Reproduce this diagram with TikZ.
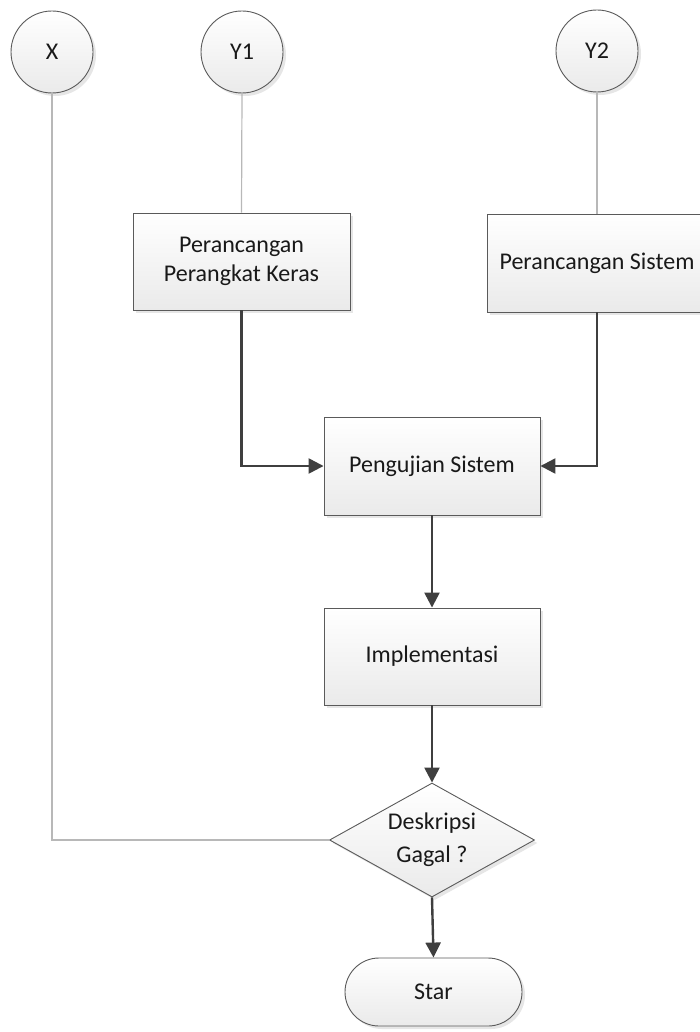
\documentclass[tikz,border=0pt]{standalone}
\usepackage{fontspec}
\setmainfont{Carlito}
\usetikzlibrary{shapes.geometric,arrows.meta,shadows}
\definecolor{edgegray}{HTML}{5A5A5A}
\definecolor{arrowgray}{HTML}{3F3F3F}
\definecolor{linegray}{HTML}{B8B8B8}
\definecolor{fillbot}{HTML}{EAEAEA}
\begin{document}
\begin{tikzpicture}[x=1pt,y=-1pt,
  base/.style={draw=edgegray, line width=0.9pt, top color=white, bottom color=fillbot,
     drop shadow={shadow xshift=3pt, shadow yshift=-3pt, opacity=0.2},
     font=\fontsize{24}{29}\selectfont, align=center, inner sep=0pt, text=black!90},
  conn/.style={base, circle, minimum size=82pt},
  proc/.style={base, rectangle},
  term/.style={base, rectangle, rounded corners=34pt},
  dec/.style={base, diamond},
  plain/.style={draw=linegray, line width=1.2pt},
  flow/.style={draw=arrowgray, line width=2.4pt, -{Triangle[length=15pt,width=15pt]}}
]
\useasboundingbox (0,0) rectangle (699,1032);

% connectors
\node[conn] (X) at (52,52) {X};
\node[conn] (Y1) at (242,52) {Y1};
\node[conn] (Y2) at (597,51) {Y2};

% process boxes
\node[proc, minimum width=217pt, minimum height=97pt] (pk) at (241.5,261.5) {Perancangan\\Perangkat Keras};
\node[proc, minimum width=220pt, minimum height=98pt] (ps) at (597,263) {Perancangan Sistem};
\node[proc, minimum width=216pt, minimum height=98pt] (pu) at (432,466) {Pengujian Sistem};
\node[proc, minimum width=216pt, minimum height=97pt] (im) at (432,656.5) {Implementasi};

% decision
\node[dec, minimum width=205pt, minimum height=114pt] (dia) at (432,840) {};
\node[font=\fontsize{24}{33}\selectfont, align=center, text=black!90, inner sep=0pt] (dtext) at (432,840) {Deskripsi\\Gagal ?};

% terminal
\node[term, minimum width=177pt, minimum height=68pt] (star) at (433.5,992) {Star};

% lines
\coordinate (xc) at (52,840);
\draw[plain] (X.south) -- (xc) -- (dia.west);
\draw[plain] (Y1.south) -- (pk.north);
\draw[plain] (Y2.south) -- (ps.north);

\draw[flow] (pk.south) |- (pu.west);
\draw[flow] (ps.south -| Y2.south) |- (pu.east);
\draw[flow] (pu.south) -- (im.north);
\draw[flow] (im.south) -- (dia.north);
\draw[flow] (dia.south) -- (star.north);
\end{tikzpicture}
\end{document}
